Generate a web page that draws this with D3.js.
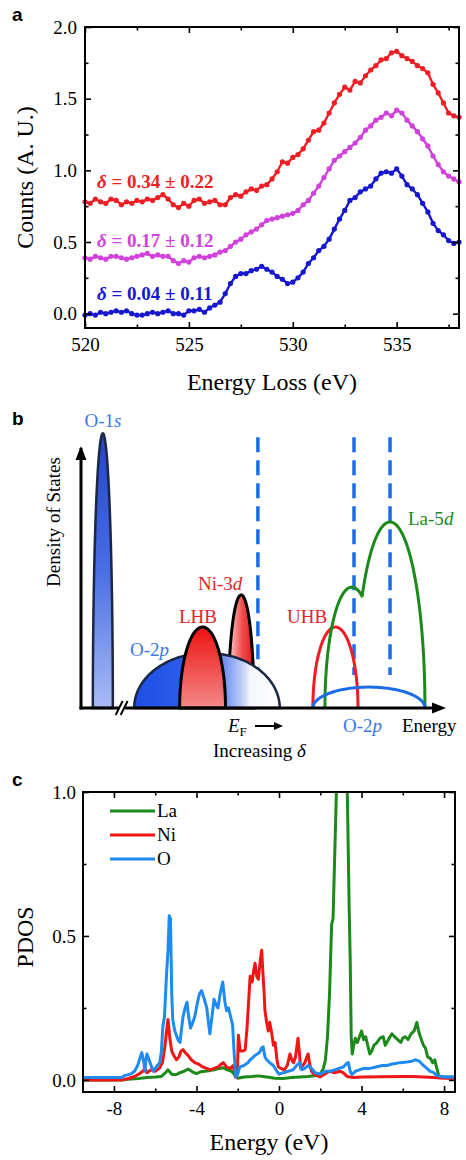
<!DOCTYPE html>
<html><head><meta charset="utf-8">
<script src="https://cdn.jsdelivr.net/npm/d3@7"></script>
<style>
body{margin:0;background:#fff}
svg{display:block}
text{font-family:"Liberation Serif","Times New Roman",serif}
.plabel{font-family:"Liberation Sans",Arial,sans-serif;font-weight:bold}
</style>
</head><body>
<svg id="fig" width="466" height="1160"></svg>
<script>
// ---------------- Panel a data (EELS O-K edge) ----------------
const eelsEnergy = [520,520.25,520.5,520.75,521,521.25,521.5,521.75,522,522.25,522.5,522.75,523,523.25,523.5,523.75,524,524.25,524.5,524.75,525,525.25,525.5,525.75,526,526.25,526.5,526.75,527,527.25,527.5,527.75,528,528.25,528.5,528.75,529,529.25,529.5,529.75,530,530.25,530.5,530.75,531,531.25,531.5,531.75,532,532.25,532.5,532.75,533,533.25,533.5,533.75,534,534.25,534.5,534.75,535,535.25,535.5,535.75,536,536.25,536.5,536.75,537,537.25,537.5,537.75,538];
const eelsDelta034 = [0.78,0.77,0.80,0.78,0.77,0.80,0.79,0.76,0.78,0.77,0.79,0.78,0.80,0.79,0.81,0.83,0.80,0.76,0.74,0.77,0.75,0.79,0.80,0.77,0.78,0.79,0.76,0.76,0.81,0.83,0.82,0.85,0.87,0.86,0.89,0.90,0.94,0.99,1.06,1.05,1.09,1.11,1.15,1.21,1.27,1.28,1.33,1.40,1.47,1.53,1.58,1.56,1.62,1.61,1.66,1.70,1.73,1.77,1.78,1.82,1.83,1.80,1.78,1.76,1.73,1.71,1.68,1.60,1.54,1.47,1.40,1.38,1.37];
const eelsDelta017 = [0.39,0.38,0.40,0.39,0.38,0.40,0.40,0.39,0.38,0.39,0.40,0.41,0.42,0.40,0.41,0.40,0.40,0.37,0.35,0.37,0.36,0.39,0.40,0.39,0.40,0.41,0.43,0.44,0.47,0.50,0.52,0.55,0.57,0.59,0.62,0.65,0.66,0.67,0.68,0.69,0.70,0.72,0.76,0.79,0.84,0.89,0.95,1.01,1.07,1.10,1.13,1.16,1.19,1.23,1.28,1.31,1.35,1.37,1.40,1.38,1.42,1.40,1.35,1.31,1.27,1.22,1.17,1.10,1.04,0.99,0.96,0.94,0.92];
const eelsDelta004 = [-0.01,0.00,-0.01,0.01,0.00,0.01,0.02,0.01,0.02,0.00,-0.01,-0.01,0.00,0.01,0.00,0.01,0.02,0.00,0.00,-0.01,0.02,0.02,0.03,0.01,0.04,0.06,0.08,0.14,0.21,0.26,0.28,0.28,0.30,0.31,0.33,0.31,0.29,0.26,0.24,0.21,0.22,0.25,0.29,0.35,0.39,0.44,0.47,0.52,0.59,0.66,0.72,0.79,0.81,0.85,0.87,0.89,0.94,0.98,0.99,0.98,1.01,0.96,0.90,0.87,0.83,0.77,0.71,0.63,0.58,0.55,0.51,0.49,0.50];
const eelsLabels = ["0.34 \u00b1 0.22","0.17 \u00b1 0.12","0.04 \u00b1 0.11"];
const eelsXMajor = [520,525,530,535];
const eelsXMinor = [522.5,527.5,532.5,537.5];
const eelsYMajor = [0,0.5,1.0,1.5,2.0];
const eelsYMinor = [0.25,0.75,1.25,1.75];

// ---------------- Panel b data (schematic, arbitrary units) ----------------
// [center energy, half width, height]
const bandO1s   = [6.0, 2.75, 102.5];
const bandO2pV  = [34.6, 20.0, 20.5];
const bandLHB   = [33.4, 6.3, 30.2];
const bandNi3d  = [44.0, 3.55, 42.2];
const bandUHB   = [69.9, 6.2, 30.2];
const bandLa5dA = [74.4, 7.4, 45.1];
const bandLa5dB = [84.9, 9.6, 69.4];
const bandO2pC  = [79.1, 15.4, 7.8];
const edgeLines = [48.6, 75.0, 84.9];
const edgeLineBottoms = [0, 12.3, 12.3];

// ---------------- Panel c data (PDOS) ----------------
const pdosLa = [[-9.5,0],[-7.6,0],[-7.2,0.003],[-6.8,0.005],[-6.4,0.008],[-6.0,0.01],[-5.7,0.012],[-5.5,0.025],[-5.38,0.035],[-5.2,0.02],[-5.0,0.018],[-4.8,0.025],[-4.6,0.03],[-4.41,0.038],[-4.2,0.028],[-4.0,0.022],[-3.8,0.028],[-3.6,0.03],[-3.4,0.032],[-3.1,0.036],[-2.9,0.04],[-2.7,0.042],[-2.5,0.035],[-2.3,0.03],[-2.1,0.015],[-2.0,0.006],[-1.7,0.01],[-1.3,0.012],[-1.0,0.014],[-0.6,0.01],[-0.2,0.006],[0.2,0.005],[0.6,0.008],[1.0,0.01],[1.4,0.012],[1.8,0.015],[2.0,0.02],[2.15,0.04],[2.25,0.07],[2.35,0.15],[2.45,0.3],[2.55,0.54],[2.62,0.56],[2.7,0.78],[2.8,1.05],[2.9,1.2],[3.1,1.2],[3.3,1.05],[3.4,0.6],[3.45,0.42],[3.5,0.15],[3.55,0.09],[3.62,0.12],[3.7,0.145],[3.8,0.13],[4.0,0.17],[4.1,0.14],[4.2,0.15],[4.3,0.12],[4.4,0.09],[4.5,0.1],[4.6,0.12],[4.75,0.13],[4.9,0.145],[5.05,0.15],[5.15,0.12],[5.3,0.14],[5.47,0.16],[5.6,0.15],[5.75,0.14],[5.9,0.13],[6.0,0.145],[6.12,0.15],[6.25,0.14],[6.4,0.16],[6.55,0.17],[6.68,0.2],[6.8,0.16],[6.9,0.14],[7.0,0.12],[7.1,0.11],[7.2,0.08],[7.33,0.075],[7.45,0.06],[7.55,0.07],[7.65,0.04],[7.75,0.012],[8.0,0.01],[8.5,0.01]];
const pdosNi = [[-9.5,0],[-7.6,0],[-7.3,0.005],[-7.0,0.012],[-6.8,0.02],[-6.6,0.03],[-6.5,0.04],[-6.4,0.025],[-6.2,0.035],[-6.0,0.03],[-5.8,0.04],[-5.65,0.06],[-5.53,0.115],[-5.45,0.17],[-5.38,0.21],[-5.3,0.15],[-5.2,0.1],[-5.1,0.085],[-4.97,0.07],[-4.85,0.08],[-4.75,0.1],[-4.65,0.105],[-4.55,0.095],[-4.41,0.085],[-4.25,0.07],[-4.08,0.06],[-3.9,0.055],[-3.7,0.045],[-3.5,0.04],[-3.35,0.035],[-3.15,0.04],[-2.95,0.045],[-2.8,0.055],[-2.7,0.06],[-2.55,0.045],[-2.35,0.04],[-2.22,0.05],[-2.12,0.01],[-2.02,0.02],[-1.97,0.155],[-1.88,0.1],[-1.75,0.1],[-1.64,0.105],[-1.55,0.18],[-1.45,0.3],[-1.4,0.36],[-1.3,0.34],[-1.24,0.375],[-1.16,0.405],[-1.08,0.36],[-1.0,0.35],[-0.9,0.42],[-0.84,0.45],[-0.77,0.36],[-0.72,0.3],[-0.68,0.24],[-0.6,0.2],[-0.52,0.17],[-0.45,0.2],[-0.35,0.16],[-0.27,0.12],[-0.19,0.13],[-0.1,0.07],[-0.03,0.045],[0.1,0.04],[0.25,0.035],[0.4,0.05],[0.53,0.09],[0.62,0.07],[0.7,0.06],[0.8,0.08],[0.92,0.145],[0.98,0.1],[1.05,0.04],[1.15,0.05],[1.25,0.06],[1.35,0.08],[1.41,0.09],[1.5,0.05],[1.58,0.03],[1.7,0.02],[1.85,0.015],[1.99,0.01],[2.2,0.02],[2.47,0.03],[2.7,0.025],[2.96,0.03],[3.1,0.025],[3.3,0.012],[3.6,0.008],[4.0,0.01],[5.0,0.011],[6.0,0.012],[6.5,0.012],[7.0,0.01],[7.5,0.008],[8.0,0.006],[8.5,0.006]];
const pdosO = [[-9.5,0.008],[-7.6,0.008],[-7.5,0.015],[-7.2,0.02],[-7.0,0.03],[-6.85,0.05],[-6.72,0.08],[-6.65,0.095],[-6.55,0.06],[-6.5,0.03],[-6.45,0.07],[-6.4,0.09],[-6.3,0.07],[-6.2,0.05],[-6.1,0.03],[-6.0,0.04],[-5.9,0.05],[-5.78,0.06],[-5.7,0.1],[-5.63,0.185],[-5.55,0.22],[-5.45,0.37],[-5.38,0.45],[-5.32,0.57],[-5.26,0.56],[-5.2,0.3],[-5.15,0.21],[-5.05,0.17],[-4.9,0.14],[-4.8,0.13],[-4.72,0.18],[-4.65,0.22],[-4.55,0.25],[-4.46,0.27],[-4.38,0.22],[-4.29,0.18],[-4.18,0.2],[-4.08,0.22],[-3.95,0.27],[-3.85,0.3],[-3.75,0.31],[-3.62,0.28],[-3.5,0.25],[-3.42,0.2],[-3.35,0.16],[-3.25,0.22],[-3.15,0.28],[-3.05,0.26],[-2.96,0.25],[-2.85,0.3],[-2.73,0.34],[-2.62,0.27],[-2.54,0.24],[-2.45,0.25],[-2.38,0.23],[-2.25,0.19],[-2.18,0.1],[-2.1,0.01],[-2.0,0.02],[-1.9,0.045],[-1.7,0.05],[-1.5,0.06],[-1.4,0.07],[-1.3,0.075],[-1.17,0.085],[-1.05,0.09],[-0.95,0.095],[-0.85,0.11],[-0.77,0.115],[-0.68,0.08],[-0.6,0.07],[-0.45,0.06],[-0.28,0.05],[-0.1,0.03],[0.0,0.02],[0.2,0.025],[0.45,0.03],[0.68,0.035],[0.85,0.05],[1.0,0.06],[1.1,0.035],[1.25,0.04],[1.4,0.05],[1.58,0.04],[1.75,0.025],[2.0,0.02],[2.25,0.03],[2.47,0.03],[2.7,0.035],[2.9,0.04],[3.12,0.045],[3.25,0.055],[3.36,0.06],[3.45,0.03],[3.53,0.018],[3.7,0.03],[3.9,0.035],[4.1,0.04],[4.4,0.04],[4.7,0.045],[5.0,0.05],[5.23,0.05],[5.5,0.055],[5.87,0.06],[6.2,0.062],[6.45,0.065],[6.6,0.07],[6.8,0.065],[7.0,0.05],[7.17,0.04],[7.33,0.03],[7.5,0.025],[7.65,0.015],[8.0,0.01],[8.5,0.01]];
const pdosNames = ["La","Ni","O"];
const pdosXMajor = [-8,-4,0,4,8];
const pdosXMinor = [-6,-2,2,6];
const pdosYMajor = [0,0.5,1.0];
const pdosYMinor = [0.25,0.75];

// ---------------- helpers ----------------
const svg = d3.select('#fig');
const FS = 19;

function frameAxes(g, x, y, box, xMaj, xMin, yMaj, yMin, xFmt, yFmt, padX, padY){
  g.append('rect').attr('x',box.l).attr('y',box.t).attr('width',box.r-box.l).attr('height',box.b-box.t)
    .attr('fill','none').attr('stroke','#000').attr('stroke-width',2);
  const parts = [
    [d3.axisBottom(x).tickValues(xMaj).tickSize(-6).tickPadding(padX).tickFormat(xFmt), `translate(0,${box.b})`],
    [d3.axisBottom(x).tickValues(xMin).tickSize(-3.5).tickFormat(''), `translate(0,${box.b})`],
    [d3.axisTop(x).tickValues(xMaj).tickSize(-6).tickFormat(''), `translate(0,${box.t})`],
    [d3.axisTop(x).tickValues(xMin).tickSize(-3.5).tickFormat(''), `translate(0,${box.t})`],
    [d3.axisLeft(y).tickValues(yMaj).tickSize(-6).tickPadding(padY).tickFormat(yFmt), `translate(${box.l},0)`],
    [d3.axisLeft(y).tickValues(yMin).tickSize(-3.5).tickFormat(''), `translate(${box.l},0)`],
    [d3.axisRight(y).tickValues(yMaj).tickSize(-6).tickFormat(''), `translate(${box.r},0)`],
    [d3.axisRight(y).tickValues(yMin).tickSize(-3.5).tickFormat(''), `translate(${box.r},0)`]
  ];
  parts.forEach(([ax,tr])=>{
    const a = g.append('g').attr('transform',tr).call(ax);
    a.select('.domain').remove();
    a.attr('font-family',null).attr('font-size',null);
    a.selectAll('line').attr('stroke','#000').attr('stroke-width',1.6);
    a.selectAll('text').attr('font-size',FS).attr('fill','#000')
      .style('font-family','"Liberation Serif","Times New Roman",serif');
  });
}

// ================= Panel a =================
const A = {l:85, r:459, t:27, b:328};
const xA = d3.scaleLinear().domain([520,538]).range([A.l,A.r]);
const yA = d3.scaleLinear().domain([-0.1,2.0]).range([A.b,A.t]);
const gA = svg.append('g');
svg.append('text').attr('class','plabel').attr('x',12).attr('y',21).attr('font-size',19).text('a');

const eelsSeries = [
  {vals:eelsDelta034, color:'#ee1f24', label:eelsLabels[0], ly:188},
  {vals:eelsDelta017, color:'#d141dc', label:eelsLabels[1], ly:247},
  {vals:eelsDelta004, color:'#1717cf', label:eelsLabels[2], ly:300}
];
const lineA = d3.line().x((d,i)=>xA(eelsEnergy[i])).y(d=>yA(d));
eelsSeries.forEach(s=>{
  gA.append('path').attr('d',lineA(s.vals)).attr('fill','none').attr('stroke',s.color).attr('stroke-width',2.4).attr('stroke-linejoin','round');
  gA.selectAll(null).data(s.vals).enter().append('circle')
    .attr('cx',(d,i)=>xA(eelsEnergy[i])).attr('cy',d=>yA(d)).attr('r',2.6).attr('fill',s.color);
  const t = gA.append('text').attr('x',97).attr('y',s.ly).attr('font-size',19).attr('font-weight','bold').attr('fill',s.color);
  t.append('tspan').attr('font-style','italic').text('\u03b4');
  t.append('tspan').text(' = ' + s.label);
});
frameAxes(gA, xA, yA, A, eelsXMajor, eelsXMinor, eelsYMajor, eelsYMinor, d3.format('d'), d3.format('.1f'), 10, 8);
gA.append('text').attr('x',(A.l+A.r)/2).attr('y',390).attr('text-anchor','middle').attr('font-size',24).text('Energy Loss (eV)');
gA.append('text').attr('transform',`translate(33,${(A.t+A.b)/2}) rotate(-90)`).attr('text-anchor','middle').attr('font-size',24).text('Counts (A. U.)');

// ================= Panel b =================
const bx = d3.scaleLinear().domain([0,100]).range([81,445]);
const by = d3.scaleLinear().domain([0,100]).range([708,440]);
const gB = svg.append('g');
svg.append('text').attr('class','plabel').attr('x',12).attr('y',425).attr('font-size',19).text('b');

const defs = svg.append('defs');
function grad(id, vertical, stops){
  const lg = defs.append('linearGradient').attr('id',id)
    .attr('x1',0).attr('y1',0).attr('x2',vertical?0:1).attr('y2',vertical?1:0);
  stops.forEach(([o,c])=>lg.append('stop').attr('offset',o).attr('stop-color',c));
}
grad('gO1s', true, [[0,'#2244c8'],[0.5,'#4a6ee4'],[1,'#a9bcf4']]);
grad('gO2p', false, [[0,'#1f4fe6'],[0.45,'#3060e8'],[0.62,'#7090f0'],[0.73,'#b8c8f6'],[0.8,'#f4f7fe'],[1,'#ffffff']]);
grad('gLHB', true, [[0,'#ee1111'],[1,'#f38a8a']]);
grad('gNi', false, [[0,'#fbd6d6'],[0.55,'#f04a4a'],[1,'#e41818']]);

function halfEllipse(b){
  const [c,a,h] = b;
  return d3.range(0,181,2).map(deg=>{const t=Math.PI*(1-deg/180); return [c+a*Math.cos(t), h*Math.sin(t)];});
}
const lineB = d3.line().x(d=>bx(d[0])).y(d=>by(d[1]));

// dashed edge lines
edgeLines.forEach((e,i)=>{
  gB.append('line').attr('x1',bx(e)).attr('x2',bx(e)).attr('y1',by(101)).attr('y2',by(edgeLineBottoms[i]))
    .attr('stroke','#1b6de6').attr('stroke-width',3.5).attr('stroke-dasharray','15,8');
});
// filled bands
gB.append('path').attr('d',lineB(halfEllipse(bandNi3d))+'Z').attr('fill','url(#gNi)').attr('stroke','#000').attr('stroke-width',3);
gB.append('path').attr('d',lineB(halfEllipse(bandO2pV))+'Z').attr('fill','url(#gO2p)').attr('stroke','#1b2744').attr('stroke-width',2.5);
gB.append('path').attr('d',lineB(halfEllipse(bandLHB))+'Z').attr('fill','url(#gLHB)').attr('stroke','#000').attr('stroke-width',3);
gB.append('path').attr('d',lineB(halfEllipse(bandO1s))+'Z').attr('fill','url(#gO1s)').attr('stroke','#1b2744').attr('stroke-width',2.5);

// empty bands
gB.append('path').attr('d',lineB(halfEllipse(bandUHB))).attr('fill','none').attr('stroke','#ee1c24').attr('stroke-width',3);
const laStart = bandLa5dA[0]-bandLa5dA[1], laEnd = bandLa5dB[0]+bandLa5dB[1];
function ellH(b,x){const r=(x-b[0])/b[1]; return Math.abs(r)>=1?0:b[2]*Math.sqrt(1-r*r);}
const laPts = d3.range(0,401).map(i=>{const x=laStart+(laEnd-laStart)*i/400; return [x, Math.max(ellH(bandLa5dA,x),ellH(bandLa5dB,x))];});
gB.append('path').attr('d',lineB(laPts)).attr('fill','none').attr('stroke','#1b8a1b').attr('stroke-width',3);
gB.append('path').attr('d',lineB(halfEllipse(bandO2pC))).attr('fill','none').attr('stroke','#1b6de6').attr('stroke-width',3);

// axes with arrows
gB.append('line').attr('x1',bx(0)).attr('x2',bx(0)).attr('y1',by(0)+1.5).attr('y2',by(97)).attr('stroke','#000').attr('stroke-width',3);
gB.append('path').attr('d',`M${bx(0)},${by(0)-262}L${bx(0)-5.5},${by(0)-248}L${bx(0)+5.5},${by(0)-248}Z`).attr('fill','#000');
gB.append('line').attr('x1',bx(0)-1.5).attr('x2',bx(97)).attr('y1',by(0)).attr('y2',by(0)).attr('stroke','#000').attr('stroke-width',3);
gB.append('path').attr('d',`M${bx(100)+1},${by(0)}L${bx(100)-13},${by(0)-5.5}L${bx(100)-13},${by(0)+5.5}Z`).attr('fill','#000');
// axis break
const brk = bx(11.3);
gB.append('rect').attr('x',brk-3).attr('y',by(0)-3).attr('width',6).attr('height',6).attr('fill','#fff');
[-3,2].forEach(o=>gB.append('line').attr('x1',brk+o-3.5).attr('y1',by(0)+7).attr('x2',brk+o+3.5).attr('y2',by(0)-7).attr('stroke','#000').attr('stroke-width',2));

// labels
function richText(g,x,y,parts,color,anchor){
  const t=g.append('text').attr('x',x).attr('y',y).attr('font-size',FS).attr('fill',color).attr('text-anchor',anchor||'start');
  parts.forEach(([s,it])=>t.append('tspan').attr('font-style',it?'italic':null).text(s));
  return t;
}
richText(gB,103,427,[['O-1',0],['s',1]],'#3a78e6','middle');
richText(gB,198,590,[['Ni-3',0],['d',1]],'#e3242b');
richText(gB,179,623,[['LHB',0]],'#e3242b');
richText(gB,130,656,[['O-2',0],['p',1]],'#3a78e6');
richText(gB,287,623,[['UHB',0]],'#e3242b');
richText(gB,408,525,[['La-5',0],['d',1]],'#1b8a1b');
richText(gB,343,732,[['O-2',0],['p',1]],'#3a78e6');
richText(gB,402,732,[['Energy',0]],'#000');
richText(gB,213,757,[['Increasing ',0],['\u03b4',1]],'#000');
const ef = gB.append('text').attr('x',228).attr('y',732).attr('font-size',FS);
ef.append('tspan').attr('font-style','italic').text('E');
ef.append('tspan').attr('font-size',13).attr('dy',4).text('F');
gB.append('line').attr('x1',255).attr('x2',276).attr('y1',726).attr('y2',726).attr('stroke','#000').attr('stroke-width',2);
gB.append('path').attr('d','M283,726L274,722L274,730Z').attr('fill','#000');
gB.append('text').attr('transform','translate(60,522) rotate(-90)').attr('text-anchor','middle').attr('font-size',FS).text('Density of States');

// ================= Panel c =================
const C = {l:83, r:455, t:792, b:1092};
const xC = d3.scaleLinear().domain([-9.5,8.53]).range([C.l,C.r]);
const yC = d3.scaleLinear().domain([-0.042,1.0]).range([C.b,C.t]);
const gC = svg.append('g');
svg.append('text').attr('class','plabel').attr('x',12).attr('y',786).attr('font-size',19).text('c');
defs.append('clipPath').attr('id','clipC').append('rect').attr('x',C.l).attr('y',C.t).attr('width',C.r-C.l).attr('height',C.b-C.t);
const pdosColors = ['#1b8a1b','#f01616','#1f8bf0'];
const lineC = d3.line().x(d=>xC(d[0])).y(d=>yC(d[1]));
const gLines = gC.append('g').attr('clip-path','url(#clipC)');
[pdosLa,pdosNi,pdosO].forEach((s,i)=>{
  gLines.append('path').attr('d',lineC(s)).attr('fill','none').attr('stroke',pdosColors[i]).attr('stroke-width',3).attr('stroke-linejoin','round');
});
frameAxes(gC, xC, yC, C, pdosXMajor, pdosXMinor, pdosYMajor, pdosYMinor, d=>String(d), d3.format('.1f'), 9.5, 7);
pdosNames.forEach((n,i)=>{
  const yy = 811 + i*24;
  gC.append('line').attr('x1',110).attr('x2',155).attr('y1',yy).attr('y2',yy).attr('stroke',pdosColors[i]).attr('stroke-width',3);
  gC.append('text').attr('x',157).attr('y',yy).attr('dy','0.33em').attr('font-size',FS).text(n);
});
gC.append('text').attr('x',269).attr('y',1150).attr('text-anchor','middle').attr('font-size',24).text('Energy (eV)');
gC.append('text').attr('transform','translate(33,937) rotate(-90)').attr('text-anchor','middle').attr('font-size',24).text('PDOS');
</script>
</body></html>
